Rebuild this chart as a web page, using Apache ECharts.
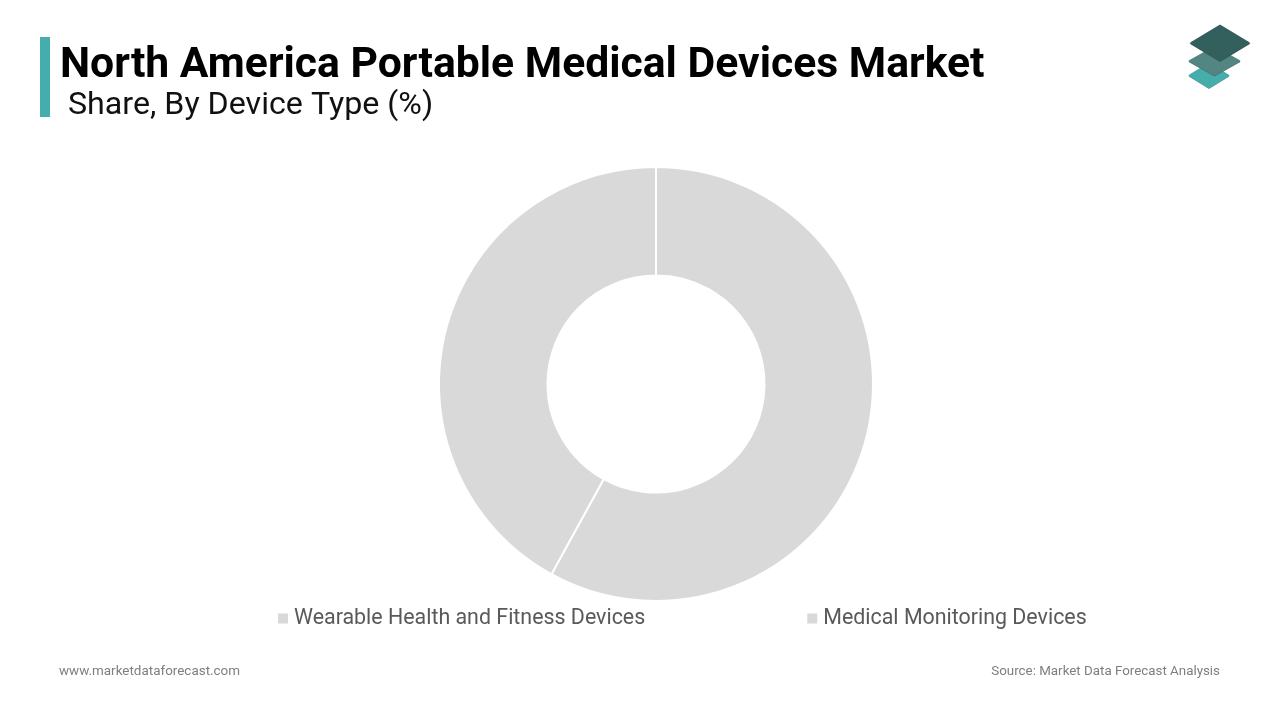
<!DOCTYPE html>
<html><head><meta charset="utf-8">
<style>html,body{margin:0;padding:0;background:#fff}#c{width:1280px;height:720px}</style>
<script src="https://cdn.jsdelivr.net/npm/echarts@6/dist/echarts.min.js"></script>
</head><body><div id="c"></div>
<script>
const categories = ['Wearable Health and Fitness Devices', 'Medical Monitoring Devices'];
const shares = [58, 42];
const chartTitle = 'North America Portable Medical Devices Market';
const chartSubtitle = 'Share, By Device Type (%)';
const footLeft = 'www.marketdataforecast.com';
const footRight = 'Source: Market Data Forecast Analysis';
const font = 'Roboto';
const chart = echarts.init(document.getElementById('c'), null, {renderer:'canvas', width:1280, height:720});
function diamond(cx, cy, hw, hh, color){
  return {type:'polygon', silent:true, shape:{points:[[cx,cy-hh],[cx+hw,cy],[cx,cy+hh],[cx-hw,cy]]},
    style:{fill:color, stroke:color, lineWidth:1.5, lineJoin:'round'}};
}
chart.setOption({
  animation:false,
  backgroundColor:'#ffffff',
  title:[
    {text:chartTitle, left:60, top:45, padding:0, textStyle:{fontFamily:font, fontSize:42.7, fontWeight:700, color:'#000'}},
    {text:chartSubtitle, left:68, top:90, padding:0, textStyle:{fontFamily:font, fontSize:32.2, fontWeight:400, color:'#111'}},
    {text:footLeft, left:59, top:665, padding:0, textStyle:{fontFamily:font, fontSize:13.45, fontWeight:400, color:'#7f7f7f'}},
    {text:footRight, right:60, top:665, padding:0, textStyle:{fontFamily:font, fontSize:13.35, fontWeight:400, color:'#7f7f7f'}}
  ],
  legend:{
    data:categories, left:278, top:608, orient:'horizontal', padding:0,
    icon:'rect', itemWidth:10, itemHeight:10, itemGap:162,
    itemStyle:{borderWidth:0},
    textStyle:{fontFamily:font, fontSize:21.4, color:'#595959', padding:[3,0,0,1]},
    selectedMode:false
  },
  color:['#d9d9d9','#d9d9d9'],
  series:[{
    type:'pie', center:[656,384], radius:[108.5,217], startAngle:90, clockwise:true,
    label:{show:false}, labelLine:{show:false}, silent:true,
    itemStyle:{color:'#d9d9d9', borderColor:'#fff', borderWidth:2},
    data:categories.map((n,i)=>({name:n, value:shares[i]}))
  }],
  graphic:[
    {type:'rect', silent:true, shape:{x:40,y:37,width:10,height:80}, style:{fill:'#45aeac'}},
    diamond(1209,76,19.5,12,'#6f8f8e'),
    diamond(1209,75.5,19.5,12,'#45aeac'),
    diamond(1214.5,61.6,25,14,'#4a6462'),
    diamond(1214.5,61,25,14,'#538683'),
    diamond(1220,43.6,29,17.5,'#3a5452'),
    diamond(1220,43,29,17.5,'#335f5c')
  ]
});
</script></body></html>
